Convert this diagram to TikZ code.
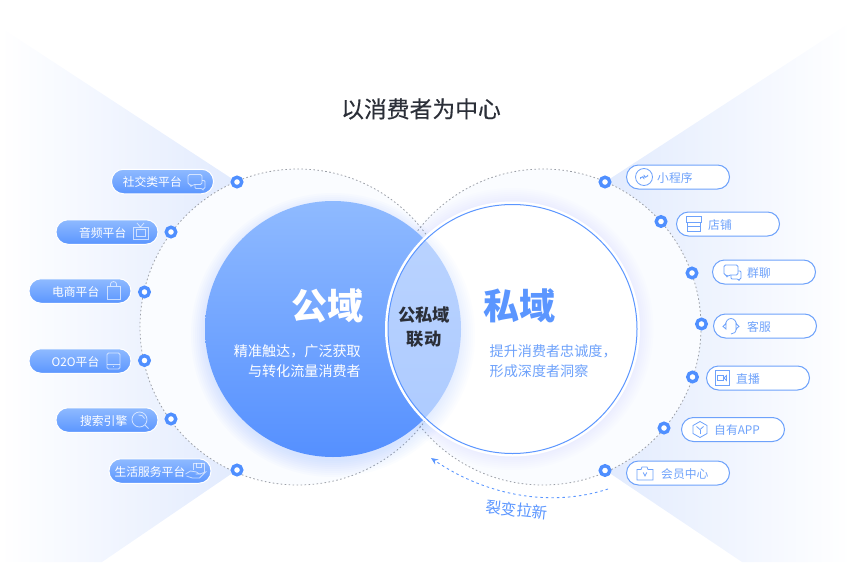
\documentclass[tikz,border=0pt]{standalone}
\usepackage{fontspec}
\setmainfont{Noto Sans CJK SC}
\newfontfamily\medfont[FakeBold=0.35]{Noto Sans CJK SC}
\usepackage{tikz}
\usetikzlibrary{arrows.meta}
\usetikzlibrary{positioning}
\definecolor{MainBlue}{HTML}{5B96FF}
\definecolor{RingBlue}{HTML}{4F8FFF}
\definecolor{SoftBlue}{HTML}{6EA2FB}
\definecolor{PubTop}{HTML}{8FBAFF}
\definecolor{PubBot}{HTML}{5590FF}
\definecolor{LensTop}{HTML}{BBD4FF}
\definecolor{LensBot}{HTML}{ACCAFF}
\definecolor{FanBlue}{HTML}{E2EBFE}
\definecolor{HaloBlue}{HTML}{FAFCFF}
\definecolor{DotGray}{HTML}{9A9EA6}
\definecolor{InkDark}{HTML}{2B2F38}
\tikzset{
    ringdot/.style={circle, draw=RingBlue, fill=white, line width=3.4pt, minimum size=9.5pt, inner sep=0pt},
    pillblue/.style={rectangle, rounded corners=12pt, draw=white, line width=1pt, top color=PubTop, bottom color=MainBlue, minimum width=102pt, minimum height=24.5pt, inner sep=0pt},
    pillwhite/.style={rectangle, rounded corners=12pt, draw=SoftBlue, line width=1pt, fill=white, minimum width=103pt, minimum height=24pt, inner sep=0pt},
    labwhite/.style={text=white, font=\fontsize{11.8}{14}\selectfont, inner sep=0pt, anchor=east, yshift=-0.8pt},
    labblue/.style={text=SoftBlue, font=\fontsize{11.8}{14}\selectfont, inner sep=0pt, anchor=west, yshift=-0.8pt},
    iconwhite/.style={draw=white, draw opacity=0.65, line width=0.8pt},
    iconblue/.style={draw=SoftBlue, line width=0.8pt},
    pics/chat/.style={code={
        \path[pic actions, rounded corners=1.5pt] (-8,-7) -- (6,-7) -- (6,3) -- (-3,3) -- (-5,5) -- (-5,3) -- (-8,3) -- cycle;
        \path[pic actions, rounded corners=1pt] (-1,3) -- (-1,7) -- (6,7) -- (7,8.5) -- (7,7) -- (9,7) -- (9,-1) -- (6,-1);
    }},
    pics/tvset/.style={code={
        \path[pic actions] (-7.5,-5) rectangle (7.5,7.5);
        \path[pic actions] (-4.5,-2.5) rectangle (4.5,4.5);
        \path[pic actions] (-3.5,-9) -- (0,-5) -- (3.5,-9);
    }},
    pics/bag/.style={code={
        \path[pic actions] (-6.5,-5) rectangle (6.5,8);
        \path[pic actions] (-3,-5) -- (-3,-7) arc (180:0:3 and -2.5) -- (3,-5);
    }},
    pics/tablet/.style={code={
        \path[pic actions, rounded corners=1.5pt] (-6.5,-8) rectangle (6.5,8);
        \path[pic actions] (-6.5,3.5) -- (6.5,3.5);
        \path[pic actions] (-0.5,5.5) -- (0.5,5.5);
    }},
    pics/lens/.style={code={
        \path[pic actions] (-1,-0.5) circle (7.5);
        \path[pic actions] (4.5,5) -- (8,8.5);
        \path[pic actions] (-2,-5) arc (-100:-20:5.5);
    }},
    pics/hand/.style={code={
        \path[pic actions] (-3,-1) -- (-3,-8) -- (8,-8) -- (8,1);
        \path[pic actions] (0,-8) -- (0,-4) -- (5,-4) -- (5,-8);
        \path[pic actions] (-11,3) -- (-6,0) -- (0,1) -- (3,3) -- (-1,3);
        \path[pic actions] (3,3) -- (9,1) -- (3,7) -- (-4,7) -- (-10,5);
    }},
    pics/weapp/.style={code={
        \path[pic actions] (0,0) circle (8.5);
        \path[pic actions] (-3.6,0) -- (-3.6,1.5) arc (180:360:1.8) -- (0,-1.5) arc (180:0:1.8) -- (3.6,-0.5);
    }},
    pics/shop/.style={code={
        \path[pic actions] (-7.5,-7.5) -- (7.5,-7.5) -- (7.5,-2) -- (-7.5,-2) -- cycle;
        \path[pic actions] (-6.5,-2) -- (-6.5,7.5) -- (6.5,7.5) -- (6.5,-2);
        \path[pic actions] (-6.5,2.5) -- (6.5,2.5);
    }},
    pics/headset/.style={code={
        \path[pic actions] (-5.5,-1) arc (180:360:5.5 and 6.5);
        \path[pic actions] (-5,-2.5) -- (-5,3) -- (-8,0.5) -- cycle;
        \path[pic actions] (5,-2.5) -- (5,3) -- (8,0.5) -- cycle;
        \path[pic actions] (5.5,3) arc (0:90:5.5 and 5);
    }},
    pics/camera/.style={code={
        \path[pic actions] (-7,-7.5) rectangle (7,7.5);
        \path[pic actions] (-4.5,-2.5) rectangle (1,2.5);
        \path[pic actions] (4.5,-2.5) -- (2,0) -- (4.5,2.5) -- cycle;
    }},
    pics/hexa/.style={code={
        \path[pic actions] (0,-8) -- (7,-4) -- (7,4) -- (0,8) -- (-7,4) -- (-7,-4) -- cycle;
        \path[pic actions] (-3.5,-3) -- (0,0) -- (3.5,-3);
        \path[pic actions] (0,0) -- (0,4);
    }},
    pics/vipbag/.style={code={
        \path[pic actions] (-8,-3.5) -- (-4,-3.5) -- (-3,-6) -- (2,-6) -- (3,-3.5) -- (8,-3.5) -- (8,7) -- (-8,7) -- cycle;
        \path[pic actions] (-1.8,-0.5) -- (0,3) -- (1.8,-0.5);
    }}
}
\begin{document}
\begin{tikzpicture}[x=1pt, y=-1pt]
\useasboundingbox (0,0) rectangle (851,562);

% 1. Background fans
\shade[left color=white, right color=FanBlue] (0,27) -- (237,182) -- (237,470) -- (102,562) -- (0,562) -- cycle;
\shade[left color=FanBlue, right color=white] (605,182) -- (851,22) -- (851,562) -- (742,562) -- (605,470) -- cycle;

% 2. Outer dotted circles
\coordinate (leftc) at (298,327);
\coordinate (rightc) at (543,327);
\fill[HaloBlue] (leftc) circle (158);
\fill[HaloBlue] (rightc) circle (158);
\draw[DotGray, line width=0.8pt, dash pattern=on 1.6pt off 2.4pt] (leftc) circle (158);
\draw[DotGray, line width=0.8pt, dash pattern=on 1.6pt off 2.4pt] (rightc) circle (158);

% 3. Soft glow, then the two big circles
\coordinate (pubc) at (333,329);
\coordinate (prvc) at (512.5,329);
\foreach \r in {2,4,...,18}{
    \fill[MainBlue, opacity=0.025] (333,335) circle (124+\r);
}
\foreach \r in {2,4,...,16}{
    \fill[MainBlue, opacity=0.012] (prvc) circle (125+\r);
}
\shade[top color=PubTop, bottom color=PubBot] (pubc) circle (128);
\fill[white] (prvc) circle (127.5);
\begin{scope}
    \clip (prvc) circle (124.5);
    \foreach \r in {2,4,...,18}{
        \fill[MainBlue, opacity=0.014] (333,335) circle (124+\r);
    }
    \shade[top color=LensTop, bottom color=LensBot] (pubc) circle (128);
\end{scope}
\draw[MainBlue, line width=1pt] (prvc) circle (124.5);

% 4. Texts in the middle
\node (title) at (421,109) {\medfont\fontsize{22.8}{26}\selectfont\color{InkDark} 以消费者为中心};
\node[text=white, font=\bfseries\fontsize{36}{40}\selectfont, inner sep=0pt] (pub) at (327,305.5) {公域};
\node[text=MainBlue, font=\bfseries\fontsize{36}{40}\selectfont, inner sep=0pt] (prv) at (519,305.5) {私域};
\node[text=white, font=\fontsize{14.1}{20}\selectfont, align=right, inner sep=0pt, anchor=east] (pubtxt) at (361,361) {精准触达，广泛获取\\与转化流量消费者};
\node[text=SoftBlue, font=\fontsize{14.1}{20}\selectfont, align=left, inner sep=0pt, anchor=west] (prvtxt) at (489.5,361) {提升消费者忠诚度，\\形成深度者洞察};
\node[text=InkDark, font=\bfseries\fontsize{17.3}{24}\selectfont, align=center, inner sep=0pt] (link) at (424,327.5) {公私域\\联动};

% 5. Left pills
\node[pillblue] (social) at (162.5,181.5) {};
\node[labwhite] at ([xshift=-32]social.east) {社交类平台};
\pic[iconwhite] at ([xshift=-18]social.east) {chat};
\node[pillblue] (audio) at (107,232) {};
\node[labwhite] at ([xshift=-32]audio.east) {音频平台};
\pic[iconwhite] at ([xshift=-18]audio.east) {tvset};
\node[pillblue] (mall) at (80,291) {};
\node[labwhite] at ([xshift=-32]mall.east) {电商平台};
\pic[iconwhite] at ([xshift=-18]mall.east) {bag};
\node[pillblue] (oto) at (80,361) {};
\node[labwhite] at ([xshift=-32]oto.east) {O2O平台};
\pic[iconwhite] at ([xshift=-18]oto.east) {tablet};
\node[pillblue] (search) at (107,420) {};
\node[labwhite] at ([xshift=-31]search.east) {搜索引擎};
\pic[iconwhite] at ([xshift=-18]search.east) {lens};
\node[pillblue] (life) at (160,471) {};
\node[labwhite] at ([xshift=-26]life.east) {生活服务平台};
\pic[iconwhite] at ([xshift=-15]life.east) {hand};

% 6. Right pills
\node[pillwhite] (mini) at (678,177) {};
\node[labblue] at ([xshift=31]mini.west) {小程序};
\pic[iconblue] at ([xshift=18]mini.west) {weapp};
\node[pillwhite] (store) at (728,224) {};
\node[labblue] at ([xshift=32]store.west) {店铺};
\pic[iconblue] at ([xshift=18]store.west) {shop};
\node[pillwhite] (group) at (764,272) {};
\node[labblue] at ([xshift=35]group.west) {群聊};
\pic[iconblue] at ([xshift=20]group.west) {chat};
\node[pillwhite] (serve) at (765,326) {};
\node[labblue] at ([xshift=34]serve.west) {客服};
\pic[iconblue] at ([xshift=18]serve.west) {headset};
\node[pillwhite] (live) at (758,378) {};
\node[labblue] at ([xshift=30]live.west) {直播};
\pic[iconblue] at ([xshift=16]live.west) {camera};
\node[pillwhite] (app) at (733,429.5) {};
\node[labblue] at ([xshift=33]app.west) {自有APP};
\pic[iconblue] at ([xshift=19]app.west) {hexa};
\node[pillwhite] (vip) at (678,473) {};
\node[labblue] at ([xshift=35]vip.west) {会员中心};
\pic[iconblue] at ([xshift=19]vip.west) {vipbag};

% 7. Dots on the circles
\node[ringdot] (d1) at (237,182) {};
\node[ringdot] (d2) at (171,232) {};
\node[ringdot] (d3) at (144.5,292) {};
\node[ringdot] (d4) at (144.5,360.5) {};
\node[ringdot] (d5) at (171,419) {};
\node[ringdot] (d6) at (237,470) {};
\node[ringdot] (d7) at (605,182) {};
\node[ringdot] (d8) at (661,221.5) {};
\node[ringdot] (d9) at (692,273) {};
\node[ringdot] (d10) at (701.5,324) {};
\node[ringdot] (d11) at (692.5,377) {};
\node[ringdot] (d12) at (664,428) {};
\node[ringdot] (d13) at (605,470.5) {};

% 8. Dashed arrow below
\coordinate (arrfrom) at (608,489);
\coordinate (arrto) at (431,458);
\draw[MainBlue, line width=0.9pt, dash pattern=on 2.5pt off 3pt, -{Stealth[length=7pt,width=6pt]}] (arrfrom) .. controls (550,508) and (485,495) .. (arrto);
\node[text=MainBlue, font=\fontsize{15.5}{18}\selectfont, rotate=-6, inner sep=0pt] (fission) at (517,510) {裂变拉新};

\end{tikzpicture}
\end{document}
